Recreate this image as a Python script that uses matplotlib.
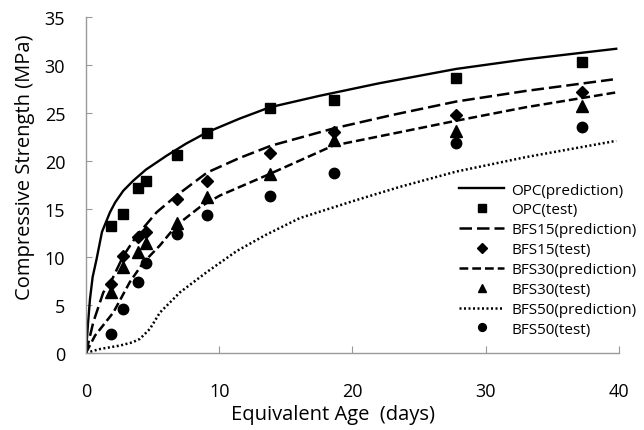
import numpy as np
import matplotlib
matplotlib.use("Agg")
import matplotlib.pyplot as plt

plt.rcParams['font.family'] = ['Open Sans', 'DejaVu Sans']

# test data (equivalent age in days, strength in MPa)
age_test = [1.9, 2.8, 3.9, 4.5, 6.8, 9.1, 13.8, 18.6, 27.8, 37.2]
opc_test = [13.2, 14.5, 17.2, 17.95, 20.6, 22.9, 25.5, 26.4, 28.7, 30.3]
bfs15_test = [7.15, 10.1, 12.1, 12.6, 16.0, 17.95, 20.8, 23.05, 24.8, 27.15]
bfs30_test = [6.3, 8.9, 10.5, 11.5, 13.5, 16.2, 18.65, 22.2, 23.15, 25.7]
bfs50_test = [2.0, 4.6, 7.4, 9.4, 12.4, 14.4, 16.3, 18.8, 21.9, 23.5]

# prediction curves
opc_age = [0, 0.15, 0.3, 0.5, 0.8, 1.2, 1.8, 2.2, 2.8, 3.55, 4.5, 6.05, 7.5, 9.1, 11.5, 13.8, 17.55, 22, 27.8, 33, 39.8]
opc_pred = [0, 3.0, 5.6, 7.9, 9.8, 12.6, 14.65, 15.7, 16.9, 17.95, 19.1, 20.55, 21.8, 23.0, 24.4, 25.6, 26.8, 28.1, 29.6, 30.6, 31.7]

bfs15_age = [0, 0.55, 1.3, 1.8, 2.8, 3.8, 5.3, 6.8, 9.1, 11.5, 13.9, 18.6, 23, 27.8, 33, 39.55]
bfs15_pred = [0, 3.2, 6.3, 7.2, 10.1, 12.2, 14.65, 16.4, 18.8, 20.3, 21.6, 23.4, 24.8, 26.2, 27.3, 28.5]

bfs30_age = [0, 0.68, 2.05, 3.3, 4.3, 5.55, 6.8, 8.55, 10.05, 13.55, 18.55, 23.55, 27.8, 33, 39.8]
bfs30_pred = [0, 1.8, 4.2, 7.4, 9.4, 11.2, 13.3, 15.2, 16.4, 18.5, 21.6, 23.0, 24.2, 25.6, 27.15]

bfs50_age = [0, 1.05, 2.55, 3.5, 4.05, 4.8, 5.55, 7.05, 9.05, 11.3, 13.5, 16.05, 20, 23.55, 27.8, 33, 39.8]
bfs50_pred = [0, 0.4, 0.76, 1.1, 1.46, 2.5, 4.2, 6.3, 8.4, 10.6, 12.3, 14.05, 15.8, 17.3, 18.9, 20.4, 22.1]

fig = plt.figure(figsize=(6.44, 4.31), dpi=100)
ax = fig.add_axes([0.1335, 0.179, 0.8275, 0.779])

ax.plot(opc_age, opc_pred, color='black', lw=1.7, label='OPC(prediction)')
ax.plot(age_test, opc_test, 's', color='black', ms=7.5, label='OPC(test)')
ax.plot(bfs15_age, bfs15_pred, color='black', lw=1.8, dashes=(5, 2), label='BFS15(prediction)')
ax.plot(age_test, bfs15_test, 'D', color='black', ms=6.5, label='BFS15(test)')
ax.plot(bfs30_age, bfs30_pred, color='black', lw=1.8, dashes=(3.5, 1.6), label='BFS30(prediction)')
ax.plot(age_test, bfs30_test, '^', color='black', ms=8.5, label='BFS30(test)')
ax.plot(bfs50_age, bfs50_pred, color='black', lw=1.8, dashes=(0.8, 1.0), label='BFS50(prediction)')
ax.plot(age_test, bfs50_test, 'o', color='black', ms=7.5, label='BFS50(test)')

ax.set_xlim(0, 40)
ax.set_ylim(0, 35)
ax.set_xticks([0, 10, 20, 30, 40])
ax.set_yticks(range(0, 36, 5))
for s in ['top', 'right']:
    ax.spines[s].set_visible(False)
for s in ['left', 'bottom']:
    ax.spines[s].set_color('#999999')
    ax.spines[s].set_linewidth(1.0)
ax.tick_params(axis='x', direction='in', length=5, color='#999999', pad=21, labelsize=13)
ax.tick_params(axis='y', direction='in', length=4, color='#999999', pad=15, labelsize=13)

ax.set_xlabel('Equivalent Age  (days)', fontsize=14.5, labelpad=3, x=0.464)
ax.set_ylabel('Compressive Strength (MPa)', fontsize=14.5, labelpad=7, y=0.555)

leg = ax.legend(loc='upper left', bbox_to_anchor=(0.685, 0.53), frameon=False, fontsize=11,
                handlelength=3.0, handletextpad=0.45, labelspacing=0.32, borderpad=0,
                markerscale=0.75)

fig.savefig('out.png', dpi=100)
